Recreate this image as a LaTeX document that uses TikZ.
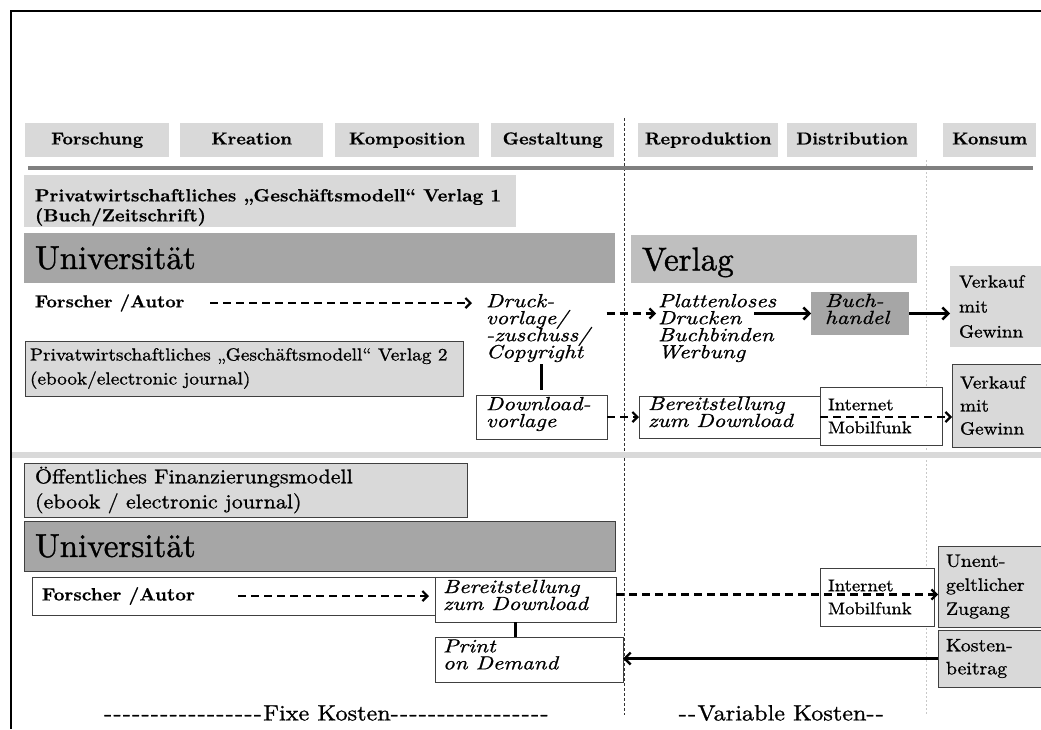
\documentclass[tikz,border=0pt]{standalone}
\usepackage{fontspec}
\newfontfamily\fRm{lmroman10-regular.otf}[FakeStretch=1.1,FakeBold=1.0]
\newfontfamily\fBd{lmroman10-bold.otf}[FakeStretch=1.05,FakeBold=0.6]
\newfontfamily\fIt{lmroman10-italic.otf}[FakeStretch=1.2,FakeBold=0.9]
\newfontfamily\fUn{lmroman10-regular.otf}[FakeBold=1.2]
\usetikzlibrary{arrows.meta}
\definecolor{lg}{HTML}{D9D9D9}
\definecolor{mg}{HTML}{BFBFBF}
\definecolor{dg}{HTML}{A6A6A6}
\definecolor{bd}{HTML}{404040}
\definecolor{rulec}{HTML}{808080}
\definecolor{dotc}{HTML}{333333}
\definecolor{dotl}{HTML}{C8C8C8}
\ExplSyntaxOn
\cs_new:Npn \hyps #1 { \prg_replicate:nn {#1} { - \kern 1.3pt } }
\ExplSyntaxOff
\newcommand\tightls{\lineskip=0pt\relax\lineskiplimit=-20pt\relax}
\newcommand\bx[8]{%
 \pgfmathsetmacro\bxw{#5-#3}\pgfmathsetmacro\bxh{#6-#4}%
 \node[anchor=north west, inner sep=0pt, outer sep=0pt, minimum width=\bxw pt, minimum height=\bxh pt, #1] (#2) at (#3,#4) {};%
 \node[txt, anchor=west, #7] (#2t) at (#2.west) {#8};}
\newcommand\hb[6]{%
 \pgfmathsetmacro\bxw{#4-#2}\pgfmathsetmacro\bxh{#5-#3}%
 \node[hdr, minimum width=\bxw pt, minimum height=\bxh pt] (#1) at (#2,#3) {#6};}
\tikzset{
 txt/.style={inner sep=0pt, outer sep=0pt, align=left},
 tR/.style 2 args={font=\fRm\fontsize{#1}{#2}\selectfont},
 tB/.style 2 args={font=\fBd\fontsize{#1}{#2}\selectfont},
 tI/.style 2 args={font=\fIt\fontsize{#1}{#2}\selectfont, execute at begin node=\tightls},
 tU/.style={font=\fUn\fontsize{33}{36}\selectfont},
 hdr/.style={anchor=north west, inner sep=0pt, fill=lg, tB={17.3}{18}, text height=12pt, text depth=3.5pt},
 wbox/.style={fill=white, draw=bd, line width=1pt},
 gbox/.style={fill=lg, draw=bd, line width=1pt},
 darr/.style={line width=2.2pt, dash pattern=on 8pt off 5pt, -{Straight Barb[length=5pt,width=10pt]}},
 sarr/.style={line width=2.4pt, -{Straight Barb[length=6pt,width=12pt]}},
 vline/.style={line width=2.5pt},
}
\begin{document}
\begin{tikzpicture}[x=1pt,y=-1pt]
\useasboundingbox (0,0) rectangle (1041,729);
\fill[white] (0,0) rectangle (1041,729);
% frame
\draw[line width=2pt] (1041,11) -- (11,11) -- (11,729);
% phase separators
\draw[dotc, line width=1pt, dash pattern=on 3pt off 2pt] (624,118) -- (624,715);
\draw[dotl, line width=1pt, dash pattern=on 2pt off 2pt] (926,160) -- (926,715);
% header
\hb{h1}{25}{123}{169}{157}{Forschung}
\hb{h2}{180}{123}{323}{157}{Kreation}
\hb{h3}{335}{123}{479}{157}{Komposition}
\hb{h4}{491}{123}{614}{157}{Gestaltung}
\hb{h5}{638}{123}{778}{157}{Reproduktion}
\hb{h6}{787}{123}{917}{157}{Distribution}
\hb{h7}{943}{123}{1036}{157}{Konsum}
\draw[rulec, line width=4pt] (28,168) -- (1033,168);
% model 1
\node[anchor=north west, inner sep=0pt, minimum width=492pt, minimum height=52pt, fill=lg] (p1) at (24,175) {};
\node[txt, tB={17.7}{20}, anchor=north west] (p1t) at (35,189) {Privatwirtschaftliches „Geschäftsmodell“ Verlag 1\\(Buch/Zeitschrift)};
\bx{fill=dg}{u1}{24}{233}{615}{283}{tU, xshift=11pt}{Universität}
\bx{fill=mg}{vl}{631}{235}{917}{283}{tU, xshift=11pt, text depth=0pt}{Verlag}
\node[txt, tB={17.4}{20}, anchor=west] (f1) at (35,303) {Forscher /Autor};
\node[txt, tI={19}{17}, anchor=north west] (dr) at (486,294) {Druck-\\vorlage/\\-zuschuss/\\Copyright};
\node[txt, tI={19}{17}, anchor=north west] (pl) at (658,294) {Plattenloses\\Drucken\\Buchbinden\\Werbung};
\bx{fill=dg}{bh}{811}{292}{909}{335}{tI={19}{17}, xshift=14pt, yshift=4.5pt}{Buch-\\handel}
\bx{fill=lg}{vk1}{950}{266}{1043}{347}{tR={17.5}{25}, xshift=9pt}{Verkauf\\mit\\Gewinn}
% model 2
\bx{gbox}{p2}{25}{341}{463}{396}{tR={17.5}{24}, xshift=5pt}{Privatwirtschaftliches „Geschäftsmodell“ Verlag 2\\(ebook/electronic journal)}
\bx{wbox}{dl}{476}{395}{607}{439}{tI={19}{17}, xshift=10pt, yshift=3pt}{Download-\\vorlage}
\bx{wbox}{be}{639}{396}{820}{438}{tI={19}{17}, xshift=9pt, yshift=5pt}{Bereitstellung\\zum Download}
\bx{wbox}{in1}{820}{387}{942}{445}{tR={17}{23}, xshift=8pt}{Internet\\Mobilfunk}
\bx{gbox}{vk2}{952}{364}{1043}{447}{tR={17.5}{23}, xshift=8pt}{Verkauf\\mit\\Gewinn}
% connectors model 1/2
\draw[darr] ([xshift=26pt]f1.east) -- ([xshift=-14pt]f1.east -| dr.west);
\draw[darr] ([xshift=17pt]dr.east |- bh.west) -- ([xshift=-2pt]pl.west |- bh.west);
\draw[sarr] ([xshift=96pt]pl.west |- bh.west) -- (bh.west);
\draw[sarr] (bh.east) -- (bh.east -| vk1.west);
\draw[vline] ([yshift=-2pt]dr.south -| dl.north) -- ([yshift=5pt]dl.north);
\draw[darr] (dl.east) -- (be.west);
\draw[darr] (be.east) -- (be.east -| vk2.west);
% separator
\draw[lg, line width=6pt] (12,455) -- (1041,455);
% public model
\bx{gbox}{oe}{24}{463}{467}{517}{tR={20}{25}, xshift=11pt}{Öffentliches Finanzierungsmodell\\(ebook / electronic journal)}
\bx{gbox, fill=dg}{u2}{24}{521}{615}{571}{tU, xshift=11pt}{Universität}
\bx{wbox}{f2}{32}{577}{435}{615}{tB={17.8}{20}, xshift=10pt}{Forscher /Autor}
\bx{wbox}{be2}{435}{577}{616}{622}{tI={19}{17}, xshift=8pt, yshift=4.5pt}{Bereitstellung\\zum Download}
\bx{wbox}{pod}{435}{637}{623}{682}{tI={19}{17}, xshift=8pt, yshift=5pt}{Print\\on Demand}
\bx{wbox}{in2}{820}{568}{934}{626}{tR={17}{23}, xshift=8pt}{Internet\\Mobilfunk}
\bx{gbox}{un}{938}{546}{1043}{627}{tR={18}{24}, xshift=8pt}{Unent-\\geltlicher\\Zugang}
\bx{gbox}{ko}{938}{630}{1043}{687}{tR={18}{23}, xshift=8pt}{Kosten-\\beitrag}
\draw[darr] ([xshift=-197pt]be2.west |- f2.east) -- ([xshift=-6pt]be2.west |- f2.east);
\draw[darr] ([yshift=5pt]be2.east) -- ([yshift=5pt]be2.east -| un.west);
\draw[vline] ([xshift=-10pt]be2.south) -- ([xshift=-10pt]be2.south |- pod.north);
\draw[sarr] (ko.west) -- (ko.west -| pod.east);
% cost labels
\node[txt, tR={22}{24}] (fk) at (327,713) {\hyps{17}Fixe Kosten\hyps{17}};
\node[txt, tR={22}{24}] (vk) at (782,713) {\hyps{2}Variable Kosten\hyps{2}};
\end{tikzpicture}
\end{document}
